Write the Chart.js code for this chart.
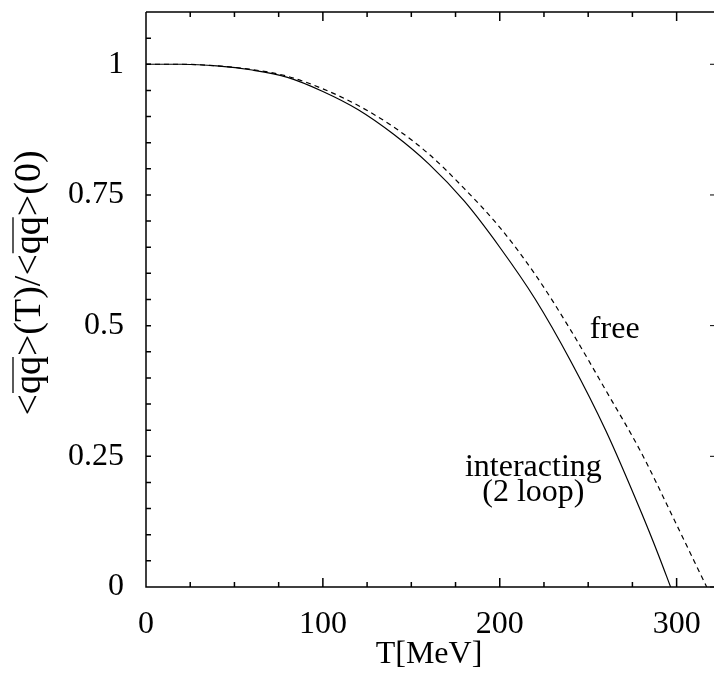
<!DOCTYPE html>
<html>
<head>
<meta charset="UTF-8">
<script src="https://cdn.jsdelivr.net/npm/chart.js"></script>
<style>
    body { margin: 0; background: #fff; }
    #box { width: 714px; height: 691px; position: relative; }
</style>
</head>
<body>
<div id="box"><canvas id="grafico"></canvas></div>

<script>
    // dados
    const tInteracting = [0, 20, 40, 60, 80, 100, 120, 140, 160, 180, 200, 220, 240, 260, 280, 290, 296.6];
    const interacting = [1, 1, 0.997, 0.989, 0.975, 0.948, 0.913, 0.866, 0.809, 0.738, 0.650, 0.551, 0.433, 0.299, 0.143, 0.059, 0];

    const tFree = [0, 20, 40, 60, 80, 100, 120, 140, 160, 180, 200, 220, 240, 260, 280, 300, 310, 317];
    const free = [1, 1, 0.997, 0.990, 0.977, 0.953, 0.921, 0.880, 0.828, 0.762, 0.688, 0.598, 0.492, 0.376, 0.257, 0.119, 0.049, 0];

    const xTicks = [0, 100, 200, 300];
    const xMinor = [25, 50, 75, 125, 150, 175, 225, 250, 275];
    const yTicks = [0, 0.25, 0.5, 0.75, 1];
    const yMinor = [0.05, 0.1, 0.15, 0.2, 0.3, 0.35, 0.4, 0.45, 0.55, 0.6, 0.65, 0.7, 0.8, 0.85, 0.9, 0.95, 1.05];

    const fonte = 'Liberation Serif';

    function pontos(xs, ys) {
        let lista = [];
        for (let i = 0; i < xs.length; i++) {
            lista.push({ x: xs[i], y: ys[i] });
        }
        return lista;
    }

    // eixos, ticks para dentro e textos
    const molduraPlugin = {
        id: 'moldura',
        afterDraw(chart) {
            const ctx = chart.ctx;
            const xs = chart.scales.x;
            const ys = chart.scales.y;
            const a = chart.chartArea;

            ctx.save();
            ctx.strokeStyle = '#000';
            ctx.lineWidth = 1.5;
            ctx.beginPath();
            ctx.moveTo(a.left, a.top);
            ctx.lineTo(714, a.top);
            ctx.moveTo(a.left, a.top);
            ctx.lineTo(a.left, a.bottom);
            ctx.lineTo(714, a.bottom);

            xTicks.concat(xMinor).forEach(v => {
                const px = xs.getPixelForValue(v);
                const len = xTicks.includes(v) ? 9 : 5;
                ctx.moveTo(px, a.bottom);
                ctx.lineTo(px, a.bottom - len);
                ctx.moveTo(px, a.top);
                ctx.lineTo(px, a.top + len);
            });

            yTicks.concat(yMinor).forEach(v => {
                const py = ys.getPixelForValue(v);
                ctx.moveTo(a.left, py);
                ctx.lineTo(a.left + 5, py);
            });
            ctx.stroke();

            ctx.lineWidth = 1;
            ctx.beginPath();
            yTicks.forEach(v => {
                const py = ys.getPixelForValue(v);
                ctx.moveTo(710, py);
                ctx.lineTo(714, py);
            });
            ctx.stroke();

            // legendas das curvas
            ctx.fillStyle = '#000';
            ctx.font = '32px ' + fonte;
            ctx.textAlign = 'center';
            ctx.textBaseline = 'alphabetic';
            ctx.fillText('free', xs.getPixelForValue(265), ys.getPixelForValue(0.477));
            ctx.fillText('interacting', xs.getPixelForValue(219), ys.getPixelForValue(0.212));
            ctx.fillText('(2 loop)', xs.getPixelForValue(219), ys.getPixelForValue(0.165));

            // titulo do eixo y com barra sobre qq
            ctx.font = '38px ' + fonte;
            ctx.textAlign = 'left';
            const partes = ['<', 'qq', '>(T)/<', 'qq', '>(0)'];
            let total = 0;
            partes.forEach(p => total += ctx.measureText(p).width);
            ctx.translate(40, 283);
            ctx.rotate(-Math.PI / 2);
            let cx = -total / 2;
            ctx.lineWidth = 1.3;
            partes.forEach(p => {
                const w = ctx.measureText(p).width;
                ctx.fillText(p, cx, 0);
                if (p === 'qq') {
                    ctx.beginPath();
                    ctx.moveTo(cx + 1, -27);
                    ctx.lineTo(cx + w - 1, -27);
                    ctx.stroke();
                }
                cx += w;
            });
            ctx.restore();
        }
    };

    const config = {
        type: 'line',
        data: {
            datasets: [{
                label: 'interacting (2 loop)',
                data: pontos(tInteracting, interacting),
                borderColor: '#000',
                borderWidth: 1.2,
                pointRadius: 0,
                cubicInterpolationMode: 'monotone',
                fill: false
            }, {
                label: 'free',
                data: pontos(tFree, free),
                borderColor: '#000',
                borderWidth: 1.2,
                borderDash: [5, 4],
                pointRadius: 0,
                cubicInterpolationMode: 'monotone',
                fill: false
            }]
        },
        options: {
            responsive: true,
            maintainAspectRatio: false,
            animation: false,
            events: [],
            layout: { padding: { top: 12, right: 2, left: 0, bottom: 0 } },
            plugins: {
                legend: { display: false },
                tooltip: { enabled: false }
            },
            scales: {
                x: {
                    type: 'linear',
                    min: 0,
                    max: 320,
                    grid: { display: false, drawTicks: false },
                    border: { display: false },
                    afterBuildTicks: s => { s.ticks = xTicks.map(v => ({ value: v })); },
                    afterFit: s => {
                        s.height = 104;
                        s.paddingLeft = 0;
                        s.paddingRight = 0;
                    },
                    ticks: {
                        color: '#000',
                        font: { family: fonte, size: 32 },
                        padding: 18,
                        maxRotation: 0
                    },
                    title: {
                        display: true,
                        text: 'T[MeV]',
                        color: '#000',
                        font: { family: fonte, size: 32 },
                        padding: { top: 0, bottom: 17 }
                    }
                },
                y: {
                    type: 'linear',
                    min: 0,
                    max: 1.1,
                    grid: { display: false, drawTicks: false },
                    border: { display: false },
                    afterBuildTicks: s => { s.ticks = yTicks.map(v => ({ value: v })); },
                    afterFit: s => {
                        s.width = 146;
                        s.paddingTop = 0;
                        s.paddingBottom = 0;
                    },
                    ticks: {
                        color: '#000',
                        font: { family: fonte, size: 32 },
                        padding: 22,
                        callback: v => String(v)
                    }
                }
            }
        },
        plugins: [molduraPlugin]
    };

    let myChart = new Chart(document.getElementById('grafico'), config);
</script>
</body>
</html>
